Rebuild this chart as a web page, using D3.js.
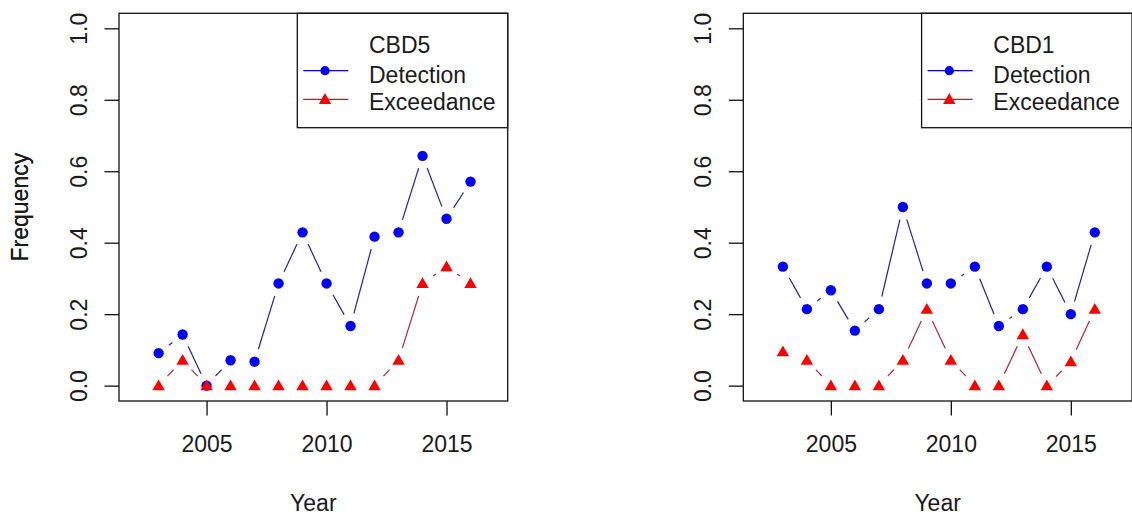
<!DOCTYPE html>
<html>
<head>
<meta charset="utf-8">
<script src="https://cdn.jsdelivr.net/npm/d3@7"></script>
<style>
  html, body { margin: 0; padding: 0; background: #fff; }
  svg { display: block; font-family: "Liberation Sans", Arial, sans-serif; }
</style>
</head>
<body>
<div id="main"></div>
<script>
// data
const years = [2003, 2004, 2005, 2006, 2007, 2008, 2009, 2010, 2011, 2012, 2013, 2014, 2015, 2016];
const cbd5Detection = [0.091, 0.143, 0.0, 0.071, 0.067, 0.286, 0.429, 0.286, 0.167, 0.417, 0.429, 0.643, 0.467, 0.571];
const cbd5Exceedance = [0.0, 0.071, 0.0, 0.0, 0.0, 0.0, 0.0, 0.0, 0.0, 0.0, 0.071, 0.286, 0.333, 0.286];
const cbd1Detection = [0.333, 0.214, 0.267, 0.154, 0.214, 0.5, 0.286, 0.286, 0.333, 0.167, 0.214, 0.333, 0.2, 0.429];
const cbd1Exceedance = [0.095, 0.071, 0.0, 0.0, 0.0, 0.071, 0.214, 0.071, 0.0, 0.0, 0.143, 0.0, 0.067, 0.214];
const xTicks = [2005, 2010, 2015];
const yTicks = [0.0, 0.2, 0.4, 0.6, 0.8, 1.0];
const seriesNames = ["Detection", "Exceedance"];

class FreqPanel {
    constructor({ left = 119, top = 13.3, width = 388.7, height = 387.7 } = {}) {
        this.left = left;
        this.top = top;
        this.w = width;
        this.h = height;
        this.fontSize = 23;
        this.gap = 13;   // type="b" gap round each point
    }

    draw(svg, title, detection, exceedance) {
        const x = d3.scaleLinear().domain([2001.35, 2017.55]).range([0, this.w]);
        const y = d3.scaleLinear().domain([-0.043, 1.042]).range([this.h, 0]);

        const g = svg.append("g")
            .attr("transform", `translate(${this.left},${this.top})`);

        // x axis
        const xa = g.append("g")
            .attr("transform", `translate(0,${this.h})`)
            .call(d3.axisBottom(x).tickValues(xTicks).tickFormat(d3.format("d")).tickSize(14.5).tickPadding(20));
        xa.select(".domain").remove();
        xa.selectAll("line").attr("stroke", "#111").attr("stroke-width", 1.3);
        xa.selectAll("text").attr("font-size", this.fontSize).attr("fill", "#1a1a1a")
            .style("font-family", "'Liberation Sans', Arial, sans-serif");

        // y axis, labels turned like R las=0
        const ya = g.append("g")
            .call(d3.axisLeft(y).tickValues(yTicks).tickFormat(d3.format(".1f")).tickSize(14.5));
        ya.select(".domain").remove();
        ya.selectAll("line").attr("stroke", "#111").attr("stroke-width", 1.3);
        ya.selectAll("text")
            .attr("transform", "rotate(-90)")
            .attr("x", 0)
            .attr("y", -32)
            .attr("dy", 0)
            .attr("text-anchor", "middle")
            .attr("font-size", this.fontSize)
            .attr("fill", "#1a1a1a")
            .style("font-family", "'Liberation Sans', Arial, sans-serif");

        // lines with gaps
        this.gappedLine(g, x, y, detection, "#22229a");
        this.gappedLine(g, x, y, exceedance, "#b8203a");

        // points
        g.selectAll(".det")
            .data(years)
            .join("circle")
            .attr("class", "det")
            .attr("cx", d => x(d))
            .attr("cy", (d, i) => y(detection[i]))
            .attr("r", 5.2)
            .attr("fill", "#0000ff");

        const tri = "M0,-6.2L6.2,4.6L-6.2,4.6Z";
        g.selectAll(".exc")
            .data(years)
            .join("path")
            .attr("class", "exc")
            .attr("d", tri)
            .attr("transform", (d, i) => `translate(${x(d)},${y(exceedance[i])})`)
            .attr("fill", "#ff0000");

        // box
        g.append("rect")
            .attr("width", this.w)
            .attr("height", this.h)
            .attr("fill", "none")
            .attr("stroke", "#111")
            .attr("stroke-width", 1.3);

        this.drawLegend(g, title, tri);

        // axis titles
        g.append("text")
            .attr("x", this.w / 2)
            .attr("y", 497.4)
            .attr("text-anchor", "middle")
            .attr("font-size", this.fontSize)
            .attr("fill", "#1a1a1a")
            .text("Year");

        g.append("text")
            .attr("transform", `translate(${27.5 - this.left},${this.h / 2}) rotate(-90)`)
            .attr("text-anchor", "middle")
            .attr("font-size", this.fontSize)
            .attr("fill", "#1a1a1a")
            .text("Frequency");
    }

    gappedLine(g, x, y, vals, color) {
        const segs = [];
        for (let i = 0; i < years.length - 1; i++) {
            const x1 = x(years[i]), y1 = y(vals[i]);
            const x2 = x(years[i + 1]), y2 = y(vals[i + 1]);
            const len = Math.hypot(x2 - x1, y2 - y1);
            if (len <= 2 * this.gap) continue;
            const ux = (x2 - x1) / len, uy = (y2 - y1) / len;
            segs.push([x1 + ux * this.gap, y1 + uy * this.gap, x2 - ux * this.gap, y2 - uy * this.gap]);
        }
        g.selectAll(null)
            .data(segs)
            .join("line")
            .attr("x1", d => d[0]).attr("y1", d => d[1])
            .attr("x2", d => d[2]).attr("y2", d => d[3])
            .attr("stroke", color)
            .attr("stroke-width", 1.2);
    }

    drawLegend(g, title, tri) {
        const lg = g.append("g");
        lg.append("rect")
            .attr("x", 178.3)
            .attr("y", 0)
            .attr("width", this.w - 178.3)
            .attr("height", 114.4)
            .attr("fill", "#fff")
            .attr("stroke", "#111")
            .attr("stroke-width", 1.3);

        const tx = 250;
        lg.append("text")
            .attr("x", tx).attr("y", 40)
            .attr("font-size", this.fontSize).attr("fill", "#1a1a1a")
            .text(title);

        const rows = [
            { name: seriesNames[0], color: "#0000ff", base: 69.4, sy: 57.4 },
            { name: seriesNames[1], color: "#ff0000", base: 96.7, sy: 86 }
        ];
        rows.forEach((r, i) => {
            lg.append("line")
                .attr("x1", 184.3).attr("x2", 229.3)
                .attr("y1", r.sy).attr("y2", r.sy)
                .attr("stroke", r.color)
                .attr("stroke-width", 1.3);
            if (i === 0) {
                lg.append("circle").attr("cx", 206).attr("cy", r.sy).attr("r", 4.6).attr("fill", r.color);
            } else {
                lg.append("path").attr("d", tri).attr("transform", `translate(206,${r.sy})`).attr("fill", r.color);
            }
            lg.append("text")
                .attr("x", tx).attr("y", r.base)
                .attr("font-size", this.fontSize).attr("fill", "#1a1a1a")
                .text(r.name);
        });
    }
}

const svg = d3.select("#main")
    .append("svg")
    .attr("width", 1132)
    .attr("height", 515);

svg.append("rect").attr("width", 1132).attr("height", 515).attr("fill", "#fff");

new FreqPanel({ left: 119 }).draw(svg, "CBD5", cbd5Detection, cbd5Exceedance);
new FreqPanel({ left: 743.3 }).draw(svg, "CBD1", cbd1Detection, cbd1Exceedance);
</script>
</body>
</html>
